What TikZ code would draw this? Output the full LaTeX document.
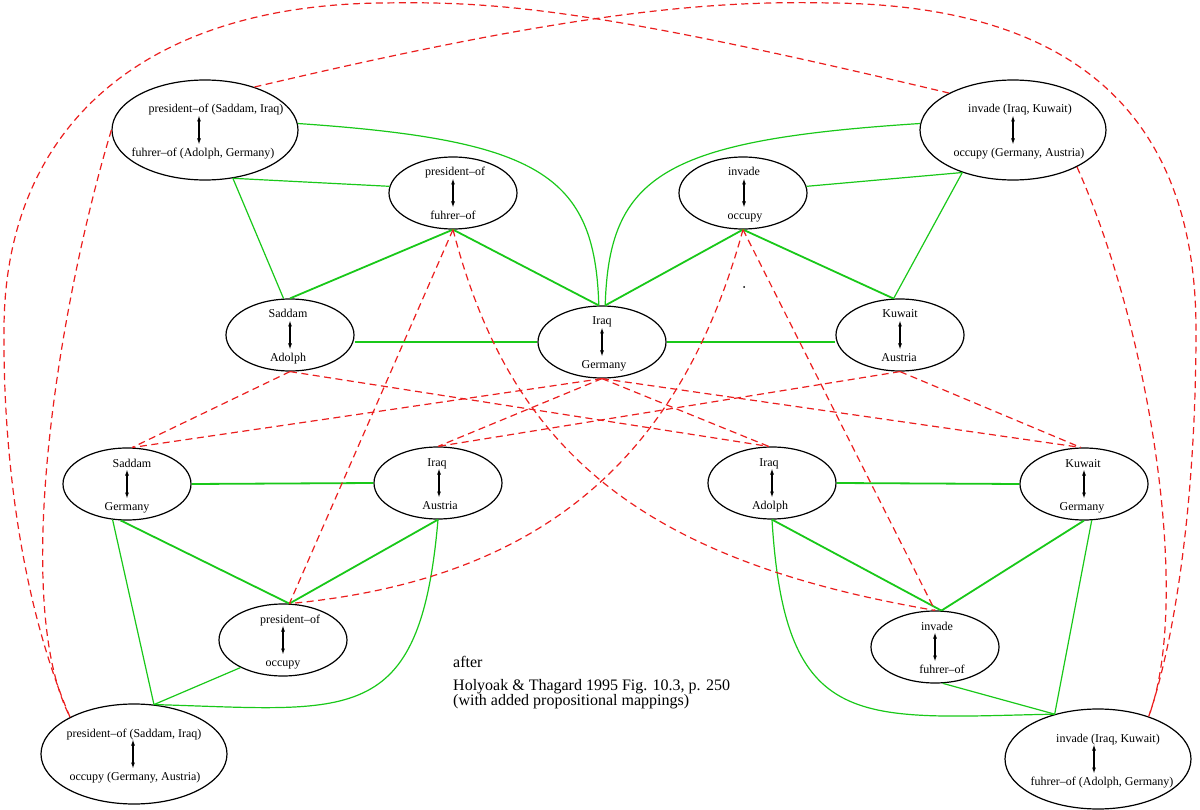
\documentclass[tikz,border=0pt]{standalone}
\usepackage{fontspec}
\setmainfont{Liberation Serif}
\usetikzlibrary{shapes.geometric,arrows.meta,calc}
\definecolor{mapred}{RGB}{235,30,30}
\definecolor{mapgreen}{RGB}{25,200,25}
\tikzset{
  ell/.style={draw=black,line width=1.2pt,ellipse,inner sep=0pt},
  bigell/.style={ell,minimum width=186pt,minimum height=100pt},
  smallell/.style={ell,minimum width=128pt,minimum height=72pt},
  lbl/.style={font=\fontsize{12}{14}\selectfont,inner sep=0pt,anchor=base},
  dbl/.style={line width=1.1pt,{Latex[length=6pt,width=4pt]}-{Latex[length=6pt,width=4pt]}},
  gthick/.style={draw=mapgreen,line width=1.8pt},
  gthin/.style={draw=mapgreen,line width=1.2pt},
  rdash/.style={draw=mapred,line width=1.2pt,dash pattern=on 7pt off 4.5pt},
  captxt/.style={font=\fontsize{16}{19}\selectfont,inner sep=0pt,anchor=base west}
}
\newcommand\mapnode[8]{%
  \node[#3] (#1) at (#2) {};
  \path (#1.center) ++(#6,-17) node[lbl] (#1t) {#4};
  \path (#1.center) ++(#8,26.5) node[lbl] (#1b) {#5};
  \draw[dbl] ($(#1.center)+(#7,-14.5)$) -- ($(#1.center)+(#7,14.5)$);
}
\begin{document}
\begin{tikzpicture}[x=1pt,y=-1pt]
\useasboundingbox (0,0) rectangle (1200,810);

\mapnode{E1}{205,130}{bigell}{president\textendash of (Saddam, Iraq)}{fuhrer\textendash of (Adolph, Germany)}{11}{-6}{-2}
\mapnode{E2}{1013,130}{bigell}{invade (Iraq, Kuwait)}{occupy (Germany, Austria)}{7}{0}{6}
\mapnode{E3}{453,193}{smallell}{president\textendash of}{fuhrer\textendash of}{2}{0}{0}
\mapnode{E4}{743,193}{smallell}{invade}{occupy}{1}{1}{2}
\mapnode{SA}{290,335}{smallell}{Saddam}{Adolph}{-2}{0}{-2}
\mapnode{IG}{602,342}{smallell}{Iraq}{Germany}{0}{0}{2}
\mapnode{KA}{900,335}{smallell}{Kuwait}{Austria}{0}{0}{-1}
\mapnode{SG}{127,484}{smallell}{Saddam}{Germany}{5}{0}{0}
\mapnode{IAu}{438,483}{smallell}{Iraq}{Austria}{-1}{1}{2}
\mapnode{IAd}{772,483}{smallell}{Iraq}{Adolph}{-3}{0}{-2}
\mapnode{KG}{1084,484}{smallell}{Kuwait}{Germany}{-1}{0}{-2}
\mapnode{PO}{283,640}{smallell}{president\textendash of}{occupy}{7}{0}{0}
\mapnode{IF}{935,647}{smallell}{invade}{fuhrer\textendash of}{2}{0}{7}
\mapnode{BL}{134,754}{bigell}{president\textendash of (Saddam, Iraq)}{occupy (Germany, Austria)}{0}{-1}{1}
\mapnode{BR}{1098,759}{bigell}{invade (Iraq, Kuwait)}{fuhrer\textendash of (Adolph, Germany)}{10}{-4}{4}

% green (compatible) links
\draw[gthin] (E1.4) .. controls (540,140) and (595,175) .. (IG.95);
\draw[gthin] (E2.176) .. controls (664,140) and (609,175) .. (IG.85);
\draw[gthin] (E1.-60) -- (E3.174);
\draw[gthin] (E1.-60) -- (SA.100);
\draw[gthin] (E2.-140) -- (E4.6);
\draw[gthin] (E2.-140) -- (KA.100);
\draw[gthick] (E3.south) -- (SA.north);
\draw[gthick] (E3.south) -- (IG.95);
\draw[gthick] (E4.south) -- (IG.85);
\draw[gthick] (E4.south) -- (KA.100);
\draw[gthick] (SA.east |- IG.west) -- (IG.west);
\draw[gthick] (IG.east) -- (KA.west |- IG.east);
\draw[gthick] (SG.east) -- (IAu.west);
\draw[gthick] (IAd.east) -- (KG.west);
\draw[gthick] (SG.-100) -- (PO.80);
\draw[gthick] (IAu.south) -- (PO.80);
\draw[gthick] (IAd.south) -- (IF.80);
\draw[gthick] (KG.south) -- (IF.80);
\draw[gthin] (SG.-112) -- (BL.68);
\draw[gthin] (PO.-147) -- (BL.68);
\draw[gthin] (IAu.south) .. controls (420,730) and (350,710) .. (BL.68);
\draw[gthin] (KG.-78) -- (BR.134);
\draw[gthin] (IF.-78) -- (BR.134);
\draw[gthin] (IAd.south) .. controls (785,735) and (860,718) .. (BR.134);

% red (competing) links
\draw[rdash] (E1.west) .. controls (60,300) and (10,600) .. (BL.150);
\draw[rdash] (E2.-30) .. controls (1150,330) and (1192,600) .. (BR.40);
\draw[rdash] (BL.150) .. controls (20,600) and (3,450) .. (4,330) .. controls (4,130) and (140,5) .. (383,3) .. controls (500,1) and (600,10) .. (E2.150);
\draw[rdash] (E1.41) .. controls (560,15) and (700,0) .. (830,3) .. controls (1080,5) and (1196,120) .. (1196,330) .. controls (1196,500) and (1175,640) .. (BR.40);
\draw[rdash] (E3.south) -- (PO.80);
\draw[rdash] (E3.south) .. controls (510,450) and (640,560) .. (IF.north);
\draw[rdash] (E4.south) .. controls (680,460) and (540,580) .. (PO.80);
\draw[rdash] (E4.south) -- (IF.north);
\draw[rdash] (SA.south) -- (SG.82);
\draw[rdash] (SA.south) -- (IAd.95);
\draw[rdash] (IG.south) -- (SG.82);
\draw[rdash] (IG.south) -- (IAu.north);
\draw[rdash] (IG.south) -- (IAd.95);
\draw[rdash] (IG.south) -- (KG.95);
\draw[rdash] (KA.south) -- (KG.95);
\draw[rdash] (KA.south) -- (IAu.north);

\node[circle,fill=black,inner sep=0pt,minimum size=2pt] (dot) at (744,287) {};

\node[captxt] (c1) at (453,667) {after};
\node[captxt] (c2) at (453,690) {Holyoak \& Thagard 1995 Fig. 10.3, p. 250};
\node[captxt] (c3) at (453,705) {(with added propositional mappings)};
\end{tikzpicture}
\end{document}
